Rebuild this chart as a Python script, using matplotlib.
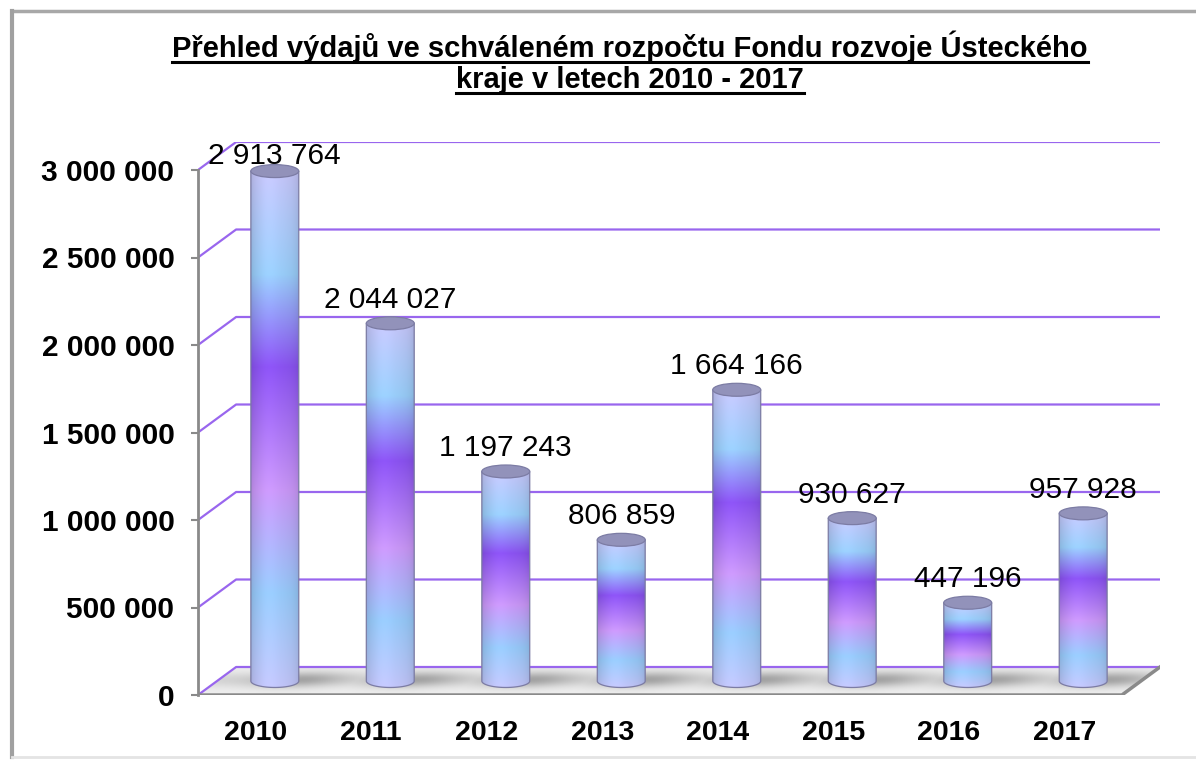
import numpy as np
import matplotlib
matplotlib.use('Agg')
import matplotlib.pyplot as plt
import matplotlib.patches as patches
from matplotlib.lines import Line2D
from matplotlib.colors import to_rgb

plt.rcParams['font.family'] = ['Liberation Sans', 'DejaVu Sans']

# data
years = ['2010', '2011', '2012', '2013', '2014', '2015', '2016', '2017']
values = [2913764, 2044027, 1197243, 806859, 1664166, 930627, 447196, 957928]
y_ticks = [0, 500000, 1000000, 1500000, 2000000, 2500000, 3000000]
title_lines = ['Přehled výdajů ve schváleném rozpočtu Fondu rozvoje Ústeckého',
               'kraje v letech 2010 - 2017']


def fmt(v):
    return f'{v:,}'.replace(',', ' ')


# fake 3d depth (x in category units, y in value units)
dx = 0.33
dy = 160000
bar_w = 0.415
ry = 37000

grid_col = '#9966ee'
axis_col = '#8a8a8a'

# vertical colour stops of the cylinder (0 = top, 1 = bottom)
stops = [0.0, 0.20, 0.38, 0.62, 0.82, 1.0]
stop_cols = ['#c4c4f8', '#98ccf8', '#8a52f0', '#c896f6', '#96c8f8', '#c0c4f8']

fig = plt.figure(figsize=(11.96, 7.6), dpi=100)
ax = fig.add_axes([198 / 1196, 65 / 760, 962 / 1196, 553 / 760])
ax.patch.set_visible(False)

n = len(years)

# floor with soft shadows
fx = np.linspace(0, n + dx, 400)
fy = np.linspace(0, dy, 80)
FX, FY = np.meshgrid(fx, fy)
depth = FY / dy
x0 = FX - depth * dx
near = np.zeros_like(FX)
for i in range(n):
    near = np.maximum(near, np.exp(-((x0 - (i + 0.5) - 0.2) / 0.35) ** 2))
shade = 0.06 + 0.30 * np.exp(-((depth - 0.55) / 0.28) ** 2) * (0.35 + 0.65 * near)
floor_img = np.ones((len(fy), len(fx), 3)) * (1 - shade)[..., None]
floor_poly = patches.Polygon([(0, 0), (n, 0), (n + dx, dy), (dx, dy)],
                             closed=True, facecolor='none', edgecolor='none')
ax.add_patch(floor_poly)
im = ax.imshow(floor_img, extent=(0, n + dx, 0, dy), origin='lower',
               aspect='auto', zorder=1)
im.set_clip_path(floor_poly)

# gridlines on side and back wall
for v in y_ticks:
    ax.plot([0, dx, n + dx], [v, v + dy, v + dy], color=grid_col, lw=1.6,
            zorder=2, solid_capstyle='butt')

# floor front and right edge
ax.plot([0, n, n + dx], [0, 0, dy], color=axis_col, lw=2.5, zorder=2.5,
        solid_joinstyle='miter')

# cylinders
t = np.linspace(0, 1, 240)
rgb = np.array([to_rgb(c) for c in stop_cols])
vert = np.stack([np.interp(t, stops, rgb[:, k]) for k in range(3)], axis=1)
u = np.linspace(-1, 1, 80)
hshade = 0.86 + 0.14 * np.sqrt(np.clip(1 - u ** 2, 0, 1))
hshade = hshade * (1 + 0.04 * np.exp(-((u + 0.3) / 0.4) ** 2))
bar_img = np.clip(vert[:, None, :] * hshade[None, :, None], 0, 1)

for i, v in enumerate(values):
    xc = i + 0.5 + dx / 2
    rx = bar_w / 2
    bottom = dy / 2
    top = v + dy / 2
    ang = np.linspace(np.pi, 2 * np.pi, 60)
    pts = [(xc - rx, top), (xc - rx, bottom)]
    pts += list(zip(xc + rx * np.cos(ang), bottom + ry * np.sin(ang)))
    pts += [(xc + rx, top)]
    body = patches.Polygon(pts, closed=True, facecolor='none',
                           edgecolor='#7c7ca4', lw=0.9, zorder=3.2)
    ax.add_patch(body)
    bim = ax.imshow(bar_img, extent=(xc - rx, xc + rx, bottom - ry, top),
                    origin='upper', aspect='auto', zorder=3)
    bim.set_clip_path(body)
    cap = patches.Ellipse((xc, top), 2 * rx, 2 * ry, facecolor='#9292ba',
                          edgecolor='#7c7ca4', lw=0.9, zorder=3.3)
    ax.add_patch(cap)
    # label sits just above the bar, kept inside the plot area
    ly = min(v + dy - 25000, y_ticks[-1])
    ax.text(xc, ly, fmt(v), ha='center', va='bottom',
            fontsize=21.5, color='black', zorder=5)

# axes
ax.set_xlim(0, n + dx)
ax.set_ylim(0, 3000000 + dy)
for s in ['top', 'right', 'bottom']:
    ax.spines[s].set_visible(False)
ax.spines['left'].set_bounds(0, 3000000)
ax.spines['left'].set_color(axis_col)
ax.spines['left'].set_linewidth(2)
ax.set_yticks(y_ticks)
ax.set_yticklabels([fmt(v) for v in y_ticks], fontsize=21.5, fontweight='bold')
ax.tick_params(axis='y', colors=axis_col, labelcolor='black', length=5,
               width=1.5, pad=12)
ax.set_xticks([i + 0.5 for i in range(n)])
ax.set_xticklabels(years, fontsize=20.5, fontweight='bold')
ax.tick_params(axis='x', length=0, pad=18)

# outer frame (top and left visible, bottom only faint)
fig.add_artist(Line2D([12 / 1196, 1.0], [749 / 760, 749 / 760],
                      transform=fig.transFigure, color='#a8a8a8', lw=2.5))
fig.add_artist(Line2D([12 / 1196, 12 / 1196], [3 / 760, 749 / 760],
                      transform=fig.transFigure, color='#a0a0a0', lw=3))
fig.add_artist(Line2D([12 / 1196, 1.0], [3 / 760, 3 / 760],
                      transform=fig.transFigure, color='#e4e4e4', lw=2))

# title with underline
renderer = fig.canvas.get_renderer()
for line, base in zip(title_lines, [57, 88]):
    yb = (760 - base) / 760
    txt = fig.text(630 / 1196, yb, line, ha='center', va='baseline',
                   fontsize=21, fontweight='bold')
    bb = txt.get_window_extent(renderer=renderer)
    x_a, x_b = bb.x0 / 1196, bb.x1 / 1196
    uy = yb - 5 / 760
    fig.add_artist(Line2D([x_a, x_b], [uy, uy], transform=fig.transFigure,
                          color='black', lw=2.2))

fig.savefig('out.png', dpi=100)
